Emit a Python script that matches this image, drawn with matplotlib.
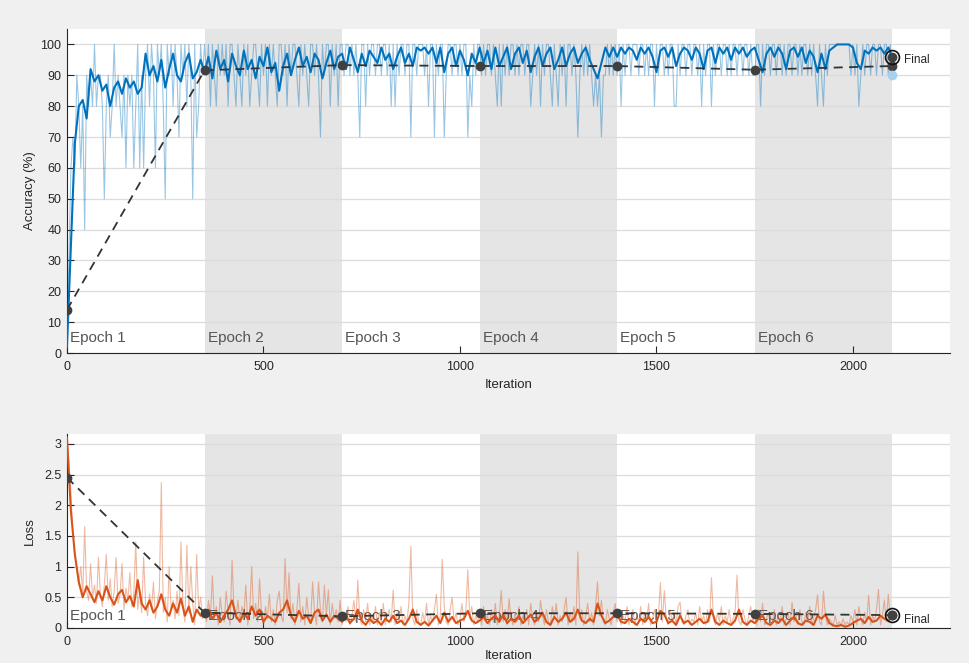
import numpy as np
import matplotlib
matplotlib.use("Agg")
import matplotlib.pyplot as plt
from matplotlib.ticker import FuncFormatter

plt.rcParams['font.family'] = ['Liberation Sans', 'DejaVu Sans']

# ---------------- data ----------------
raw_step = 5        # raw mini-batch values every 5 iterations
smooth_step = 10    # smoothed values every 10 iterations

acc_raw = [
    10,30,60,70,60,90,80,60,80,40, 90,80,90,80,100,80,90,90,80,50, 80,90,70,80,100,80,90,80,70,90,
    60,90,80,90,60,80,100,60,90,60, 90,100,80,100,90,60,100,90,100,80, 50,100,90,100,80,100,90,70,100,90,
    100,80,100,90,50,100,70,80,100,90,
    100,90,100,80,100,90,80,100,90,100, 90,100,80,100,100,90,80,100,90,80, 100,90,100,80,90,100,100,90,80,100,
    90,100,80,100,90,100,90,80,100,100, 90,100,80,100,90,100,100,90,80,100, 90,100,90,80,100,100,90,100,90,70,
    100,90,100,100,80,100,90,100,80,100,
    100,90,100,100,90,100,90,100,90,70, 100,100,80,100,90,100,100,90,100,100, 90,100,100,90,100,80,100,80,100,90,
    100,100,90,100,100,70,100,100,90,100, 100,100,90,100,80,100,100,70,100,90, 100,100,70,90,100,100,90,100,100,90,
    100,90,100,100,70,90,80,100,90,100,
    100,90,100,90,100,100,90,100,90,80, 100,80,100,90,100,90,100,100,90,100, 90,100,100,90,100,100,80,90,100,90,
    100,80,100,90,100,100,90,80,100,90, 80,100,90,100,80,100,100,90,100,90, 70,90,100,90,100,90,100,90,80,90,
    80,90,70,90,90,100,90,100,90,100,
    90,100,80,100,90,100,100,90,100,100, 100,90,100,100,90,100,90,100,100,80, 100,90,100,100,90,100,90,100,100,80,
    80,100,90,100,100,90,100,100,90,100, 100,90,100,80,100,90,100,100,80,100, 90,100,100,90,100,100,90,100,90,100,
    100,90,100,100,90,100,100,90,100,90,
    90,100,100,80,100,90,100,100,90,100, 100,90,100,100,90,100,90,100,100,90, 100,100,90,100,90,100,100,90,100,90,
    100,90,80,100,90,80,100,90,100,100, 100,100,100,100,100,100,100,100,100,90, 100,90,100,80,90,100,90,100,100,90,
    100,100,90,100,100,90,100,100,90,100,
    90,
]

acc_smooth = [
    2,35,68,80,82,76,92,88,90,85, 87,80,86,88,84,89,86,88,84,86, 97,90,93,88,95,86,92,97,90,88, 94,97,89,91,95,
    91,96,89,98,92,95,88,97,93,90, 98,92,95,89,96,93,99,91,94,85, 93,97,90,95,99,93,96,91,97,95, 89,94,98,92,96,
    97,92,99,95,91,97,93,98,96,94, 99,95,97,92,96,99,94,97,93,99, 98,99,97,99,94,99,91,97,99,93, 98,95,90,97,94,
    99,94,98,92,99,93,96,99,92,97, 99,94,98,91,96,99,93,97,99,92, 95,99,93,97,99,94,97,99,95,92, 89,94,99,96,99,
    96,99,97,99,98,95,99,97,99,96, 91,98,99,96,99,93,97,99,98,95, 99,97,92,98,99,94,99,97,99,95, 99,97,99,96,98,
    99,95,91,97,99,96,99,97,92,98, 99,96,99,94,98,96,91,97,92,98, 99,100,100,100,100,99,94,92,98,97, 99,98,99,97,99,96,
]

# loss in hundredths
loss_raw = [
    310,270,220,150,120,95,70,100,55,165, 60,45,105,50,70,40,115,55,35,70, 120,45,80,35,60,115,40,55,105,30,
    65,45,90,35,55,140,30,60,25,115, 40,20,55,30,75,15,45,60,237,25, 50,10,100,30,45,15,60,20,140,35,
    10,135,25,100,40,5,120,30,50,15,
    30,10,45,20,85,15,35,5,50,20, 10,60,25,5,110,30,15,45,10,35, 20,70,5,30,100,15,40,10,80,25,
    5,35,15,55,10,30,5,45,60,20, 10,113,25,90,15,40,5,30,73,10, 35,5,50,20,10,75,25,5,75,30,
    10,70,20,62,5,40,15,30,10,45,
    5,25,10,35,5,20,45,10,78,15, 5,30,10,40,5,20,10,35,5,25, 10,40,5,20,30,10,62,5,25,10,
    35,5,20,10,40,133,15,5,30,10, 5,25,10,40,5,20,10,30,55,5, 20,112,35,10,5,30,50,10,25,5,
    15,40,10,30,95,15,35,5,20,10,
    25,5,35,10,20,5,30,10,40,5, 20,61,10,30,5,48,15,5,25,10, 35,5,20,10,30,5,40,15,5,25,
    10,45,20,5,30,10,5,35,15,40, 5,20,10,30,50,5,25,10,35,5, 124,15,30,5,20,40,10,25,5,35,
    75,20,45,10,5,30,15,5,25,40,
    10,30,5,20,10,35,5,15,30,5, 20,10,35,5,25,10,40,5,15,30, 5,20,74,10,61,15,5,30,10,25,
    5,35,42,10,5,20,30,5,15,10, 25,5,35,10,20,5,30,10,82,15, 5,25,10,35,5,20,10,30,5,15,
    25,86,10,5,30,15,5,20,35,10,
    20,5,30,10,40,5,15,25,5,10, 30,5,20,10,35,5,15,25,5,42, 10,20,5,30,10,5,25,10,35,5,
    15,30,54,10,5,60,20,5,15,10, 5,20,5,10,5,15,5,10,5,20, 10,30,5,35,15,5,25,10,53,5,
    20,10,30,63,5,20,46,10,55,15,
    20,
]

loss_smooth = [
    310,190,120,75,50,68,55,42,60,45, 68,50,38,55,62,42,52,35,78,40, 30,45,25,35,55,30,20,40,25,48, 20,35,10,30,20,
    22,30,15,25,10,20,30,45,20,10, 25,15,35,20,30,10,20,15,10,25, 30,45,20,10,28,15,20,8,25,30, 12,22,10,20,15,
    10,20,8,15,30,12,5,15,8,12, 5,15,10,20,8,12,5,15,30,10, 5,10,4,12,20,8,25,10,18,8, 12,15,28,12,8,
    12,18,8,15,20,10,22,8,15,10, 20,8,15,22,10,15,25,10,5,18, 10,15,25,10,15,30,12,8,15,10, 40,20,8,12,18,
    22,10,8,15,10,5,15,10,18,8, 10,28,22,8,12,5,20,8,12,5, 10,15,8,10,30,10,5,12,8,5, 12,30,10,5,12,
    8,15,20,8,5,12,8,15,5,12, 18,8,5,12,10,5,20,15,22,8, 4,3,5,2,4,8,12,15,8,18, 10,12,20,15,12,17,
]

val_iters = [0, 350, 700, 1050, 1400, 1750, 2100]
acc_val = [14, 91.6, 93.3, 93.0, 93.0, 91.8, 93.0]
loss_val = [2.45, 0.25, 0.19, 0.24, 0.24, 0.23, 0.21]

epoch_labels = ["Epoch 1", "Epoch 2", "Epoch 3", "Epoch 4", "Epoch 5", "Epoch 6"]
epoch_starts = [0, 350, 700, 1050, 1400, 1750]
epoch_len = 350
final_iter = 2100

# ---------------- figure ----------------
BG = '#f0f0f0'
fig = plt.figure(figsize=(9.69, 6.63), dpi=100, facecolor=BG)
ax1 = fig.add_axes([67/969, 1-353/663, (950-67)/969, (353-29)/663])
ax2 = fig.add_axes([67/969, 1-628/663, (950-67)/969, (628-434)/663])

x_raw = np.arange(len(acc_raw)) * raw_step
x_smooth = np.arange(len(acc_smooth)) * smooth_step
xl_raw = np.arange(len(loss_raw)) * raw_step
xl_smooth = np.arange(len(loss_smooth)) * smooth_step
loss_raw_v = np.array(loss_raw) / 100.0
loss_smooth_v = np.array(loss_smooth) / 100.0

for ax in (ax1, ax2):
    ax.set_facecolor('white')
    for i, s in enumerate(epoch_starts):
        if i % 2 == 1:
            ax.axvspan(s, s + epoch_len, color='#e5e5e5', lw=0, zorder=0)
    ax.set_axisbelow(True)
    ax.grid(axis='y', color='#dcdcdc', lw=0.9)
    ax.grid(axis='x', visible=False)
    for sp in ('top', 'right'):
        ax.spines[sp].set_visible(False)
    for sp in ('left', 'bottom'):
        ax.spines[sp].set_color('#262626')
        ax.spines[sp].set_linewidth(0.8)
    ax.set_xlim(0, 2247)
    ax.set_xticks([0, 500, 1000, 1500, 2000])
    ax.tick_params(axis='both', direction='in', length=5, width=0.8, colors='#262626',
                   labelsize=9, labelcolor='#262626')
    ax.tick_params(axis='x', pad=6)
    ax.tick_params(axis='y', pad=4)

ax1.set_xlabel('Iteration', fontsize=9.5, color='#262626', labelpad=4)
ax2.set_xlabel('Iteration', fontsize=9.5, color='#262626', labelpad=1)

# ---- accuracy ----
ax1.set_ylim(0, 105)
ax1.set_yticks(np.arange(0, 101, 10))
ax1.set_ylabel('Accuracy (%)', fontsize=9.5, color='#262626', labelpad=3)
ax1.plot(x_raw, acc_raw, color='#0072bd', alpha=0.4, lw=0.8, zorder=2)
ax1.plot(x_smooth, acc_smooth, color='#0072bd', lw=1.5, zorder=3)
ax1.plot(val_iters, acc_val, color='#333333', lw=1.3, ls=(0, (5, 3.5)),
         marker='o', ms=6, mfc='#404040', mec='#404040', zorder=4)
ax1.plot(final_iter, acc_raw[-1], 'o', ms=6, color='#a9d0ee', zorder=4)
ax1.plot(final_iter, acc_smooth[-1], 'o', ms=10, mfc='none', mec='#111111', mew=1.2, zorder=5)
ax1.plot(final_iter, acc_smooth[-1], 'o', ms=6, color='#404040', zorder=5)
ax1.text(final_iter + 30, acc_smooth[-1] - 1, 'Final', fontsize=8.5, color='#262626',
         va='center', ha='left')
for lab, s in zip(epoch_labels, epoch_starts):
    ax1.text(s + 8, 5, lab, fontsize=11, color='#555555', va='center', ha='left', zorder=1.5)

# ---- loss ----
ax2.set_ylim(0, 3.16)
ax2.set_yticks([0, 0.5, 1, 1.5, 2, 2.5, 3])
ax2.yaxis.set_major_formatter(FuncFormatter(lambda v, p: '%g' % v))
ax2.set_ylabel('Loss', fontsize=9.5, color='#262626', labelpad=6)
ax2.plot(xl_raw, loss_raw_v, color='#d95319', alpha=0.4, lw=0.8, zorder=2)
ax2.plot(xl_smooth, loss_smooth_v, color='#d95319', lw=1.5, zorder=3)
for lab, s in zip(epoch_labels, epoch_starts):
    ax2.text(s + 8, 0.2, lab, fontsize=11, color='#555555', va='center', ha='left', zorder=1.5)
ax2.plot(val_iters, loss_val, color='#333333', lw=1.3, ls=(0, (5, 3.5)),
         marker='o', ms=6, mfc='#404040', mec='#404040', zorder=4)
ax2.plot(final_iter, loss_val[-1], 'o', ms=10, mfc='none', mec='#111111', mew=1.2, zorder=5)
ax2.plot(final_iter, loss_val[-1], 'o', ms=6, color='#404040', zorder=5)
ax2.text(final_iter + 30, 0.13, 'Final', fontsize=8.5, color='#262626', va='center', ha='left')

fig.savefig('out.png', dpi=100, facecolor=BG)
